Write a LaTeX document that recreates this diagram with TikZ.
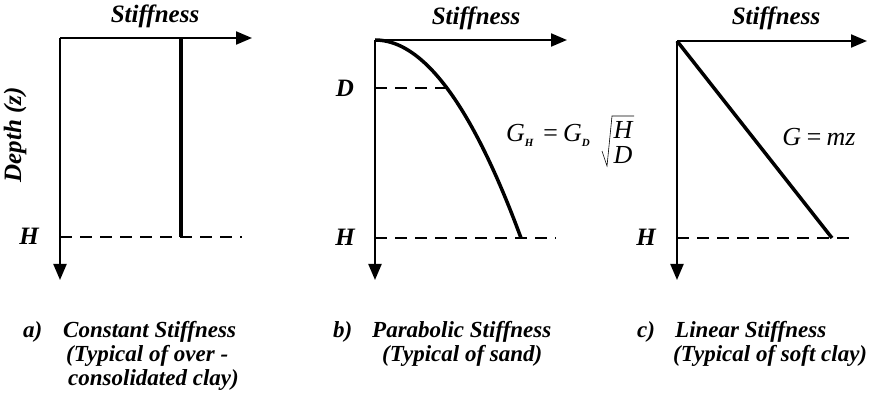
\documentclass[tikz,border=0pt]{standalone}
\usepackage{fontspec}
\usepackage{graphicx}
\setmainfont{Liberation Serif}
\usetikzlibrary{arrows.meta}
\begin{document}
\begin{tikzpicture}[x=1pt,y=-1pt,
 axis/.style={line width=2.2pt,-{Triangle[length=16pt,width=13pt]}},
 dashline/.style={line width=2.2pt,dash pattern=on 12pt off 8pt},
 thickline/.style={line width=3.5pt},
 lbl/.style={font=\fontsize{25}{27}\selectfont\bfseries\itshape, inner sep=0pt},
 captxt/.style={font=\fontsize{23}{25}\selectfont\bfseries\itshape, inner sep=0pt, anchor=base west},
 eq/.style={font=\fontsize{26}{26}\selectfont\itshape, inner sep=0pt},
]
\useasboundingbox (0,0) rectangle (889,398);
% ---------- panel a
\coordinate (oa) at (60,38);
\coordinate (xa) at (252,38);
\coordinate (ya) at (60,280);
\coordinate (ta) at (181,38);
\coordinate (ba) at (181,237);
\coordinate (ha0) at (60,237);
\coordinate (ha1) at (242,237);
\draw[axis] (oa) -- (xa);
\draw[axis] (oa) -- (ya);
\draw[thickline] (ta) -- (ba);
\draw[dashline] (ha0) -- (ha1);
\node[lbl] (sa) at (155,16) {Stiffness};
\node[lbl,rotate=90] (da) at (15,135) {Depth (z)};
\node[lbl] (hla) at (29,236) {H};
% ---------- panel b
\coordinate (ob) at (375,40);
\coordinate (xb) at (567,40);
\coordinate (yb) at (375,280);
\coordinate (db0) at (375,88);
\coordinate (db1) at (450,88);
\coordinate (hb0) at (375,238);
\coordinate (hb1) at (556,238);
\draw[axis] (ob) -- (xb);
\draw[axis] (ob) -- (yb);
\draw[dashline] (db0) -- (db1);
\draw[dashline] (hb0) -- (hb1);
\draw[thickline,line cap=butt] plot[domain=0:1,samples=80,smooth] ({375+146*\x},{40+198*\x*\x});
\node[lbl] (sb) at (476,18) {Stiffness};
\node[lbl] (dlb) at (345,88) {D};
\node[lbl] (hlb) at (345,237) {H};
\node[eq,anchor=base west] (gb) at (506,142) {G\raisebox{-5pt}{\fontsize{11}{11}\selectfont\bfseries H}\hspace{8pt}=\hspace{4pt}G\raisebox{-5pt}{\fontsize{11}{11}\selectfont\bfseries D}};
\coordinate (r0) at (602,151);
\coordinate (r1) at (607,166);
\coordinate (r2) at (612,116);
\coordinate (r3) at (634,116);
\draw[line width=0.6pt] (r0) -- (r1) -- (r2) -- (r3);
\node[eq] (fh) at (623,130) {H};
\node[eq] (fd) at (623,155) {D};
% ---------- panel c
\coordinate (oc) at (677,41);
\coordinate (xc) at (867,41);
\coordinate (yc) at (677,280);
\coordinate (ec) at (832,238);
\coordinate (hc0) at (677,238);
\coordinate (hc1) at (856,238);
\draw[axis] (oc) -- (xc);
\draw[axis] (oc) -- (yc);
\draw[thickline] (oc) -- (ec);
\draw[dashline] (hc0) -- (hc1);
\node[lbl] (sc) at (776,18) {Stiffness};
\node[lbl] (hlc) at (646,237) {H};
\node[eq] (gc) at (819,137) {G\hspace{4pt}=\hspace{4pt}mz};
% ---------- captions
\node[captxt] (ca0) at (23,337) {a)};
\node[captxt] (ca1) at (63,337) {Constant Stiffness};
\node[captxt] (ca2) at (66,361) {(Typical of over -};
\node[captxt] (ca3) at (68,385) {consolidated clay)};
\node[captxt] (cb0) at (333,337) {b)};
\node[captxt] (cb1) at (372,337) {Parabolic Stiffness};
\node[captxt] (cb2) at (382,361) {(Typical of sand)};
\node[captxt] (cc0) at (637,337) {c)};
\node[captxt] (cc1) at (675,337) {Linear Stiffness};
\node[captxt] (cc2) at (673,361) {(Typical of soft clay)};
\end{tikzpicture}
\end{document}
